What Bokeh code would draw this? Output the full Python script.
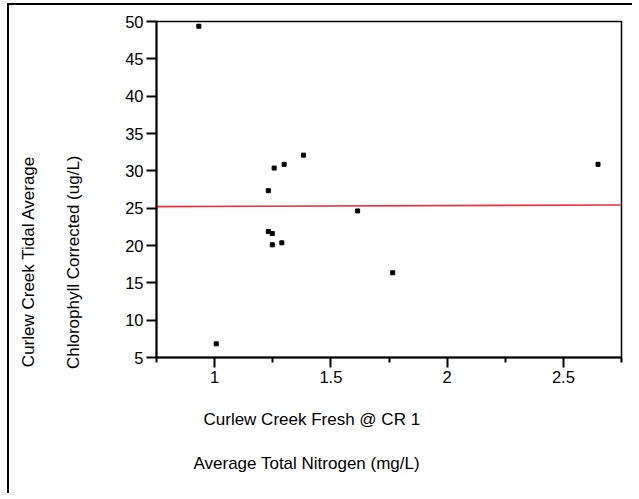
from bokeh.plotting import figure
from bokeh.layouts import column
from bokeh.models import Range1d, FixedTicker, Title, LinearAxis
from bokeh.embed import file_html
from bokeh.resources import INLINE

# Data
nitrogen = [0.932, 1.007, 1.382, 1.299, 1.256, 1.231, 1.615, 1.231, 1.248, 1.248, 1.289, 1.766, 2.649]
chlorophyll = [49.37, 6.83, 32.1, 30.87, 30.37, 27.34, 24.63, 21.87, 21.6, 20.09, 20.36, 16.35, 30.87]
fit_x = [0.75, 2.75]
fit_y = [25.2, 25.43]
x_ticks = [1, 1.5, 2, 2.5]
x_minor_ticks = [0.75, 1.25, 1.75, 2.25, 2.75]
y_ticks = [5, 10, 15, 20, 25, 30, 35, 40, 45, 50]
x_title = ["Curlew Creek Fresh @ CR 1", "Average Total Nitrogen (mg/L)"]
y_title = ["Curlew Creek Tidal Average", "Chlorophyll Corrected (ug/L)"]

W, H = 625, 490
FONT = "Liberation Sans"

p = figure(width=W, height=H, output_backend="svg", toolbar_location=None,
           x_range=Range1d(0.75, 2.75), y_range=Range1d(5, 50),
           min_border_left=147, min_border_right=13, min_border_top=16, min_border_bottom=138)
p.background_fill_color = "white"
p.border_fill_color = "white"
p.outline_line_color = "black"
p.outline_line_width = 1.5
p.xgrid.visible = False
p.ygrid.visible = False

for ax in (p.xaxis[0], p.yaxis[0]):
    ax.axis_line_color = "black"
    ax.axis_line_width = 2
    ax.major_tick_line_color = "black"
    ax.major_tick_line_width = 2
    ax.major_tick_in = 0
    ax.major_tick_out = 10
    ax.major_label_text_font = FONT
    ax.major_label_text_font_size = "16.5px"
    ax.major_label_text_color = "black"
    ax.major_label_standoff = 3

p.xaxis[0].ticker = FixedTicker(ticks=x_ticks, minor_ticks=x_minor_ticks)
p.xaxis[0].minor_tick_line_color = "black"
p.xaxis[0].minor_tick_line_width = 2
p.xaxis[0].minor_tick_in = 0
p.xaxis[0].minor_tick_out = 5
p.yaxis[0].ticker = FixedTicker(ticks=y_ticks)
p.yaxis[0].minor_tick_line_color = None

# blank spacer axis between the y axis and its titles (white ticks on white)
spacer = LinearAxis(ticker=FixedTicker(ticks=[7.5]), axis_line_color=None,
                    major_tick_line_color="white", minor_tick_line_color=None,
                    major_tick_in=0, major_tick_out=17, minor_tick_in=0, minor_tick_out=0,
                    major_label_standoff=0, major_label_overrides={7.5: ""})
p.add_layout(spacer, "left")

p.line(fit_x, fit_y, line_color="#e8303f", line_width=1.6)
p.scatter(nitrogen, chlorophyll, marker="square", size=4, fill_color="black", line_color="black")


def title(text, standoff, align, offset):
    return Title(text=text, align=align, offset=offset, standoff=standoff,
                 text_font=FONT, text_font_size="17px", text_font_style="normal",
                 text_color="black")


# x-axis titles (stacked below the axis)
p.add_layout(title(x_title[0], 45, "left", 47), "below")
p.add_layout(title(x_title[1], 0, "left", 37), "below")
# y-axis titles (stacked left of the axis; nearest first)
p.add_layout(title(y_title[1], 45, "right", 134), "left")
p.add_layout(title(y_title[0], 4, "right", 134), "left")

root = column(p)
# outer frame: only left and top edges are visible in the reference
root.styles = {"margin-left": "9px", "margin-top": "5px",
               "box-shadow": "-2px -2px 0px 0px black", "background": "white"}

open("out.html", "w").write(file_html(root, INLINE))
